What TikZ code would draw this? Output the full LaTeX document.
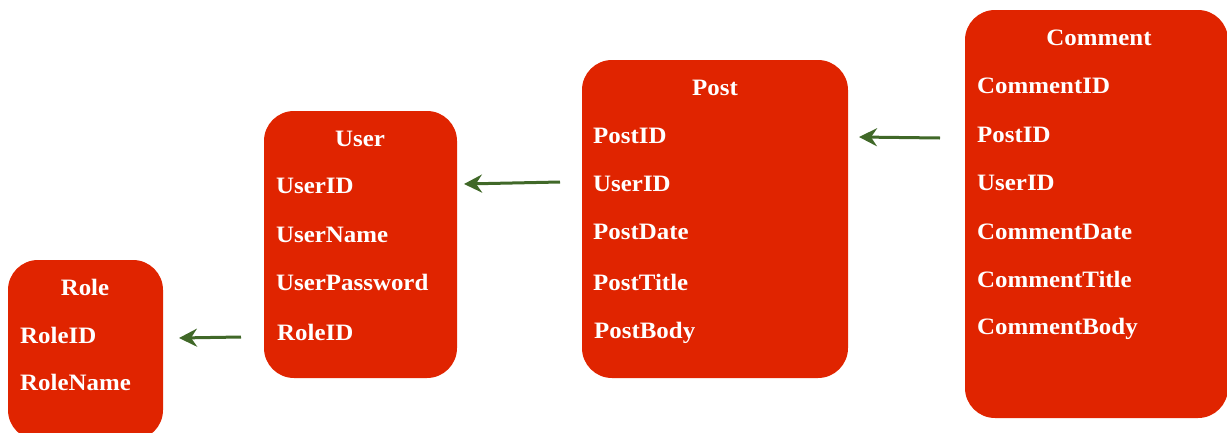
\documentclass[tikz,border=0pt]{standalone}
\usepackage{fontspec}
\setmainfont[FakeStretch=1.06]{Liberation Serif}
\usetikzlibrary{arrows.meta}
\definecolor{boxred}{RGB}{224,36,0}
\definecolor{arrgreen}{RGB}{64,104,40}
\tikzset{
  entity/.style={fill=boxred, draw=none, rounded corners=30pt},
  fld/.style={anchor=base west, inner sep=0pt, text=white, font=\fontsize{23.5}{27}\selectfont\bfseries},
  ttl/.style={anchor=base, inner sep=0pt, text=white, font=\fontsize{23.5}{27}\selectfont\bfseries},
  rel/.style={draw=arrgreen, line width=3pt, -{Stealth[length=18pt,width=18pt,inset=6pt]}}
}
\begin{document}
\begin{tikzpicture}[x=1pt,y=-1pt]
\useasboundingbox (0,0) rectangle (1227,432);
\clip (0,0) rectangle (1227,432);
% boxes
\path[entity] (8,260) rectangle (163,440);
\path[entity] (264,111) rectangle (457,378);
\path[entity] (582,60) rectangle (848,378);
\path[entity] (965,10) rectangle (1228,418);
% Role
\node[ttl] (roleT) at (85,295) {Role};
\node[fld] (role1) at (20,343) {RoleID};
\node[fld] (role2) at (20,390) {RoleName};
% User
\node[ttl] (userT) at (360,146) {User};
\node[fld] (user1) at (276,193) {UserID};
\node[fld] (user2) at (276,242) {UserName};
\node[fld] (user3) at (276,290) {UserPassword};
\node[fld] (user4) at (277,340) {RoleID};
% Post
\node[ttl] (postT) at (715,95) {Post};
\node[fld] (post1) at (593,143) {PostID};
\node[fld] (post2) at (593,191) {UserID};
\node[fld] (post3) at (593,239) {PostDate};
\node[fld] (post4) at (593,290) {PostTitle};
\node[fld] (post5) at (594,338) {PostBody};
% Comment
\node[ttl] (comT) at (1099,45) {Comment};
\node[fld] (com1) at (977,93) {CommentID};
\node[fld] (com2) at (977,142) {PostID};
\node[fld] (com3) at (977,190) {UserID};
\node[fld] (com4) at (977,239) {CommentDate};
\node[fld] (com5) at (977,287) {CommentTitle};
\node[fld] (com6) at (977,334) {CommentBody};
% arrows
\coordinate (a1s) at (241,337);
\coordinate (a1e) at (179,338);
\coordinate (a2s) at (560,182);
\coordinate (a2e) at (464,184);
\coordinate (a3s) at (940,138);
\coordinate (a3e) at (859,137);
\draw[rel] (a1s) -- (a1e);
\draw[rel] (a2s) -- (a2e);
\draw[rel] (a3s) -- (a3e);
\end{tikzpicture}
\end{document}
